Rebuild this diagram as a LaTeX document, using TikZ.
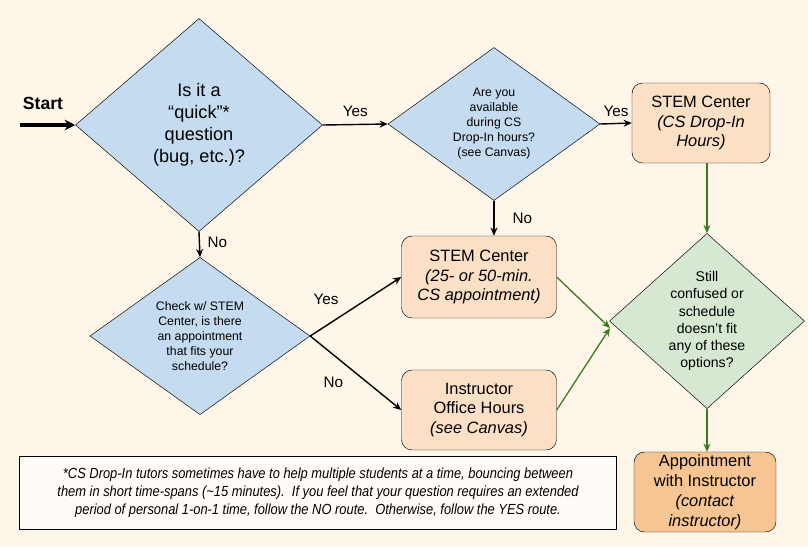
\documentclass[tikz,border=0pt]{standalone}
\usepackage{fontspec}
\setmainfont{Liberation Sans}
\newfontfamily\narrowfont{Liberation Sans}[FakeStretch=0.88]
\usetikzlibrary{shapes.geometric,arrows.meta}
\definecolor{bgtan}{HTML}{FEF6E8}
\definecolor{qblue}{HTML}{C5DCF0}
\definecolor{boxorange}{HTML}{FBE0C6}
\definecolor{qgreen}{HTML}{D6E8D2}
\definecolor{apptorange}{HTML}{F7C593}
\definecolor{flowgreen}{HTML}{3A7A20}
\tikzset{
  question/.style={shape=diamond, draw, fill=qblue, inner sep=0pt, align=center},
  place/.style={draw, rounded corners=9pt, fill=boxorange, inner sep=0pt, align=center},
  flow/.style={line width=1.2pt, -{Stealth[length=7pt,width=6pt]}},
  greenflow/.style={line width=1.1pt, draw=flowgreen, -{Stealth[length=7pt,width=6pt,fill=flowgreen]}},
  lbl/.style={font=\fontsize{13}{15}\selectfont}
}
\begin{document}
\begin{tikzpicture}[x=0.03cm, y=-0.03cm]
        
        % Background
        \fill[bgtan] (0,0) rectangle (808,546);
        \useasboundingbox (0,0) rectangle (808,546);
        
        % Questions
        \node[question, minimum width=7.41cm, minimum height=6.39cm, font=\fontsize{15.5}{18.7}\selectfont] (quick) at (199,125) {Is it a\\``quick''*\\question\\(bug, etc.)?};
        \node[question, minimum width=6.36cm, minimum height=3.36cm, font=\fontsize{10.5}{12.8}\selectfont] (dropin) at (494,124) {Are you\\available\\during CS\\Drop-In hours?\\(see Canvas)};
        \node[question, minimum width=6.6cm, minimum height=3.84cm, font=\fontsize{10.5}{12.8}\selectfont] (appt) at (200,336) {Check w/ STEM\\Center, is there\\an appointment\\that fits your\\schedule?};
        \node[question, fill=qgreen, minimum width=5.85cm, minimum height=4.74cm, font=\fontsize{12}{14.6}\selectfont] (still) at (707,321) {Still\\confused or\\schedule\\doesn't fit\\any of these\\options?};
        
        % Places
        \node[place, minimum width=4.14cm, minimum height=2.4cm, font=\fontsize{14}{17}\selectfont] (stemdrop) at (701,123) {STEM Center\\\textit{(CS Drop-In}\\\textit{Hours)}};
        \node[place, minimum width=4.65cm, minimum height=2.46cm, font=\fontsize{14}{17}\selectfont] (stemappt) at (479,277) {STEM Center\\\textit{(25- or 50-min.}\\\textit{CS appointment)}};
        \node[place, minimum width=4.65cm, minimum height=2.4cm, font=\fontsize{14}{17}\selectfont] (office) at (479,410) {Instructor\\Office Hours\\\textit{(see Canvas)}};
        \node[place, fill=apptorange, minimum width=4.26cm, minimum height=2.4cm, font=\fontsize{14}{17}\selectfont] (instr) at (705,492) {Appointment\\with Instructor\\\textit{(contact}\\\textit{instructor)}};
        
        % Footnote
        \node[draw, fill=white!60!bgtan, minimum width=17.91cm, minimum height=2.19cm, align=center, font=\narrowfont\itshape\fontsize{12.5}{15.5}\selectfont] (note) at (318,493) {*CS Drop-In tutors sometimes have to help multiple students at a time, bouncing between\\them in short time-spans (\textasciitilde15 minutes).\ \ If you feel that your question requires an extended\\period of personal 1-on-1 time, follow the NO route.\ \ Otherwise, follow the YES route.};
        
        % Start
        \coordinate (start) at (20,125);
        \node[font=\bfseries\fontsize{15}{18}\selectfont] (startlbl) at (43,103) {Start};
        \draw[line width=2.6pt, -{Stealth[length=9pt,width=9pt]}] (start) -- (quick.west);
        
        % Black connectors
        \draw[flow] (quick.east) -- node[lbl, above=3pt] (y1) {Yes} (dropin.west);
        \draw[flow] (dropin.east) -- node[lbl, above=2pt] (y2) {Yes} (stemdrop.west);
        \draw[flow] (dropin.south) -- node[lbl, right=12pt] (n2) {No} (dropin.south |- stemappt.north);
        \draw[flow] (quick.south) -- node[lbl, right=3pt, pos=0.4] (n1) {No} (appt.north);
        \draw[flow] (appt.east) -- node[lbl, above left=3pt, pos=0.4] (y3) {Yes} (stemappt.west);
        \draw[flow] (appt.east) -- node[lbl, below left=3pt, pos=0.45] (n3) {No} (office.west);
        
        % Green connectors
        \coordinate (merge) at (610,328);
        \draw[greenflow] (still.north |- stemdrop.south) -- (still.north);
        \draw[greenflow] (stemappt.east) -- (merge);
        \draw[greenflow] (office.east) -- (merge);
        \draw[greenflow] (still.south) -- (still.south |- instr.north);
        
    \end{tikzpicture}
\end{document}
